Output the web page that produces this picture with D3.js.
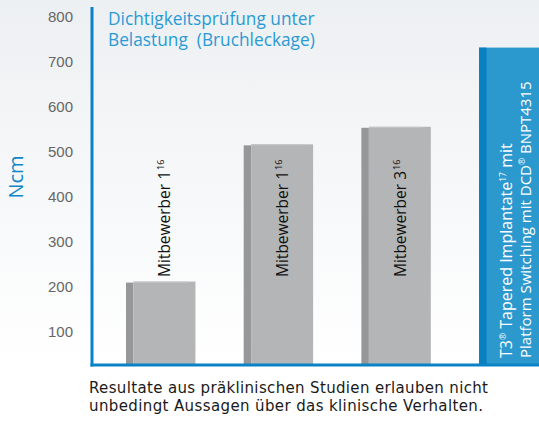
<!DOCTYPE html>
<html><head><meta charset="utf-8">
<script src="https://cdn.jsdelivr.net/npm/d3@7/dist/d3.min.js"></script>
<style>html,body{margin:0;padding:0;background:#fff;}svg{display:block;}</style>
</head><body>
<script>
const categories = ["Mitbewerber 1", "Mitbewerber 1", "Mitbewerber 3", "T3 Tapered"];
const values = [212, 517, 556, 732];
const refs = ["16", "16", "16", "17"];
const yTicks = [100, 200, 300, 400, 500, 600, 700, 800];
const titleLines = ["Dichtigkeitsprüfung unter", "Belastung  (Bruchleckage)"];
const noteLines = ["Resultate aus präklinischen Studien erlauben nicht", "unbedingt Aussagen über das klinische Verhalten."];
const noteWidths = [399, 394];
const yLabel = "Ncm";

const W = 539, H = 421;
const svg = d3.select("body").append("svg").attr("width", W).attr("height", H);
const defs = svg.append("defs");
const g = defs.append("linearGradient").attr("id", "bg").attr("x1", 0).attr("y1", 0).attr("x2", 0).attr("y2", 1);
g.append("stop").attr("offset", "0%").attr("stop-color", "#edf0f2");
g.append("stop").attr("offset", "100%").attr("stop-color", "#ffffff");
svg.append("rect").attr("width", W).attr("height", 366).attr("fill", "url(#bg)");

const y = d3.scaleLinear().domain([0, 800]).range([377, 17]);
const x = d3.scaleBand().domain(d3.range(categories.length)).range([126, 548.5]).paddingInner(0.41).paddingOuter(0);
const base = 365;
const side = 7.5;

const font = "'Open Sans', 'DejaVu Sans', sans-serif";

// tick labels
svg.append("g").selectAll("text").data(yTicks).join("text")
  .attr("x", 73).attr("y", d => y(d)).attr("dy", "0.35em")
  .attr("text-anchor", "end").attr("font-family", "'Liberation Sans', Arial, sans-serif")
  .attr("font-size", 15).attr("fill", "#666").text(d => d);

// y label
svg.append("text").attr("transform", "translate(23,177) rotate(-90)")
  .attr("text-anchor", "middle").attr("font-family", font).attr("font-size", 20)
  .attr("fill", "#0e86c8").text(yLabel);

// bars
const grey = [0, 1, 2];
const bars = svg.append("g");
grey.forEach(i => {
  const x0 = x(i), w = x.bandwidth(), top = y(values[i]);
  bars.append("rect").attr("x", x0).attr("y", top + 1).attr("width", side).attr("height", base - top - 1).attr("fill", "#969799");
  bars.append("rect").attr("x", x0 + side).attr("y", top).attr("width", w - side).attr("height", base - top).attr("fill", "#b4b5b7");
  bars.append("rect").attr("x", x0 + side).attr("y", top).attr("width", w - side - 8).attr("height", 1).attr("fill", "#c4c5c7");
});
// blue bar
{
  const i = 3, x0 = x(i), w = x.bandwidth(), top = y(values[i]);
  bars.append("rect").attr("x", x0).attr("y", top).attr("width", w).attr("height", base - top).attr("fill", "#2b98ce");
  bars.append("rect").attr("x", x0).attr("y", top).attr("width", side).attr("height", base - top).attr("fill", "#0b80c0");
}

// grey bar labels
grey.forEach(i => {
  const cx = x(i) + x.bandwidth() / 2 + 9.5;
  const t = svg.append("text").attr("transform", `translate(${cx},277) rotate(-90)`)
    .attr("font-family", font).attr("font-size", 15.5).attr("fill", "#111");
  t.append("tspan").text(categories[i]);
  t.append("tspan").attr("font-size", 9).attr("dy", -6).attr("dx", 1).text(refs[i]);
});

// blue bar labels
{
  const t1 = svg.append("text").attr("transform", "translate(512,358) rotate(-90)")
    .attr("font-family", font).attr("font-size", 16).attr("fill", "#fff");
  t1.append("tspan").text("T3");
  t1.append("tspan").attr("font-size", 8.5).attr("dy", -6).text("®");
  t1.append("tspan").attr("dy", 6).text(" Tapered Implantate");
  t1.append("tspan").attr("font-size", 8.5).attr("dy", -6).text(refs[3]);
  t1.append("tspan").attr("dy", 6).text(" mit");
  const t2 = svg.append("text").attr("transform", "translate(531,358) rotate(-90)")
    .attr("font-family", font).attr("font-size", 15).attr("fill", "#fff");
  t2.append("tspan").text("Platform Switching mit DCD");
  t2.append("tspan").attr("font-size", 8.5).attr("dy", -6).text("®");
  t2.append("tspan").attr("dy", 6).text(" BNPT4315");
}

// axes lines
svg.append("line").attr("x1", 92).attr("x2", 92).attr("y1", 7).attr("y2", base + 1.5)
  .attr("stroke", "#0a82c6").attr("stroke-width", 3);
svg.append("line").attr("x1", 90.5).attr("x2", W).attr("y1", base).attr("y2", base)
  .attr("stroke", "#0a82c6").attr("stroke-width", 3);

// title
svg.append("g").selectAll("text").data(titleLines).join("text")
  .attr("x", 108).attr("y", (d, i) => 25 + i * 21)
  .attr("font-family", font).attr("font-size", 17.3).attr("fill", "#2a9ad5")
  .style("white-space", "pre").attr("xml:space", "preserve").text(d => d);

// note
svg.append("g").selectAll("text").data(noteLines).join("text")
  .attr("x", 89).attr("y", (d, i) => 393 + i * 18)
  .attr("textLength", (d, i) => noteWidths[i]).attr("lengthAdjust", "spacing")
  .attr("font-family", "'DejaVu Sans', sans-serif").attr("font-size", 15).attr("fill", "#1a1a1a").text(d => d);
</script>
</body></html>
